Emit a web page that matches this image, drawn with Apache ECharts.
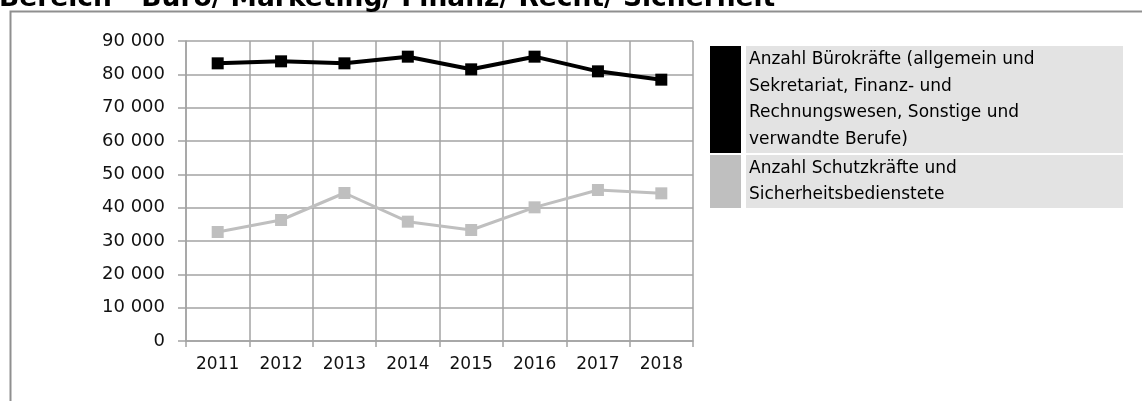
<!DOCTYPE html>
<html>
<head>
<meta charset="utf-8">
<script src="https://cdn.jsdelivr.net/npm/echarts@6/dist/echarts.min.js"></script>
<style>
html,body{margin:0;padding:0;background:#fff;}
#chart{width:1142px;height:401px;}
</style>
</head>
<body>
<div id="chart"></div>
<script>
const titleText = 'Bereich - Büro/ Marketing/ Finanz/ Recht/ Sicherheit';
const years = ['2011','2012','2013','2014','2015','2016','2017','2018'];
const seriesNames = [
  'Anzahl Bürokräfte (allgemein und Sekretariat, Finanz- und Rechnungswesen, Sonstige und verwandte Berufe)',
  'Anzahl Schutzkräfte und Sicherheitsbedienstete'
];
const legendLines = [
  ['Anzahl Bürokräfte (allgemein und', 'Sekretariat, Finanz- und', 'Rechnungswesen, Sonstige und', 'verwandte Berufe)'],
  ['Anzahl Schutzkräfte und', 'Sicherheitsbedienstete']
];
const bueroValues = [83300, 83900, 83300, 85300, 81500, 85300, 80900, 78400];
const schutzValues = [32700, 36300, 44400, 35800, 33300, 40100, 45300, 44300];
const yTickLabels = ['0','10 000','20 000','30 000','40 000','50 000','60 000','70 000','80 000','90 000'];

const font = 'DejaVu Sans';
const gridColor = '#a3a3a3';
const colors = ['#000000', '#bfbfbf'];

const chart = echarts.init(document.getElementById('chart'), null, {renderer: 'canvas'});

function legendCfg(i, top, h) {
  return {
    show: true,
    data: [seriesNames[i]],
    left: 710,
    top: top,
    orient: 'vertical',
    padding: 0,
    icon: 'rect',
    itemWidth: 31,
    itemHeight: h,
    selectedMode: false,
    formatter: () => legendLines[i].join('\n'),
    textStyle: {
      fontFamily: font,
      fontSize: 17,
      color: '#000',
      lineHeight: 26.5,
      backgroundColor: '#e3e3e3',
      width: 374,
      height: h,
      padding: [0, 0, 0, 3],
      overflow: 'none'
    }
  };
}

chart.setOption({
  animation: false,
  backgroundColor: '#ffffff',
  title: {
    text: titleText,
    left: -1,
    top: -14,
    padding: 0,
    textStyle: {fontFamily: font, fontWeight: 'bold', fontSize: 26.5, color: '#000'}
  },
  graphic: [{
    type: 'rect',
    shape: {x: 10.5, y: 11.5, width: 1300, height: 600},
    style: {fill: null, stroke: '#8f8f8f', lineWidth: 2},
    z: -10,
    silent: true
  }],
  legend: [legendCfg(0, 46, 107), legendCfg(1, 155, 53)],
  grid: {left: 186, right: 449, top: 41, bottom: 60, containLabel: false},
  xAxis: {
    type: 'category',
    data: years,
    boundaryGap: true,
    axisLine: {show: true, lineStyle: {color: gridColor, width: 1.5}},
    axisTick: {show: true, length: 6, interval: 0, lineStyle: {color: gridColor, width: 1.5}},
    splitLine: {show: true, interval: 0, lineStyle: {color: gridColor, width: 1.5}},
    axisLabel: {fontFamily: font, fontSize: 17, color: '#111', margin: 15, interval: 0}
  },
  yAxis: {
    type: 'value',
    min: 0,
    max: 90000,
    interval: 10000,
    axisLine: {show: true, lineStyle: {color: gridColor, width: 1.5}},
    axisTick: {show: true, length: 8, lineStyle: {color: gridColor, width: 1.5}},
    splitLine: {show: true, lineStyle: {color: gridColor, width: 1.5}},
    axisLabel: {
      fontFamily: font, fontSize: 18, color: '#111', margin: 21,
      formatter: (v) => yTickLabels[Math.round(v / 10000)]
    }
  },
  series: [
    {
      name: seriesNames[0], type: 'line', data: bueroValues,
      symbol: 'rect', symbolSize: 12,
      itemStyle: {color: colors[0]},
      lineStyle: {color: colors[0], width: 4},
      z: 3
    },
    {
      name: seriesNames[1], type: 'line', data: schutzValues,
      symbol: 'rect', symbolSize: 12,
      itemStyle: {color: colors[1]},
      lineStyle: {color: colors[1], width: 3},
      z: 2
    }
  ]
});
</script>
</body>
</html>
